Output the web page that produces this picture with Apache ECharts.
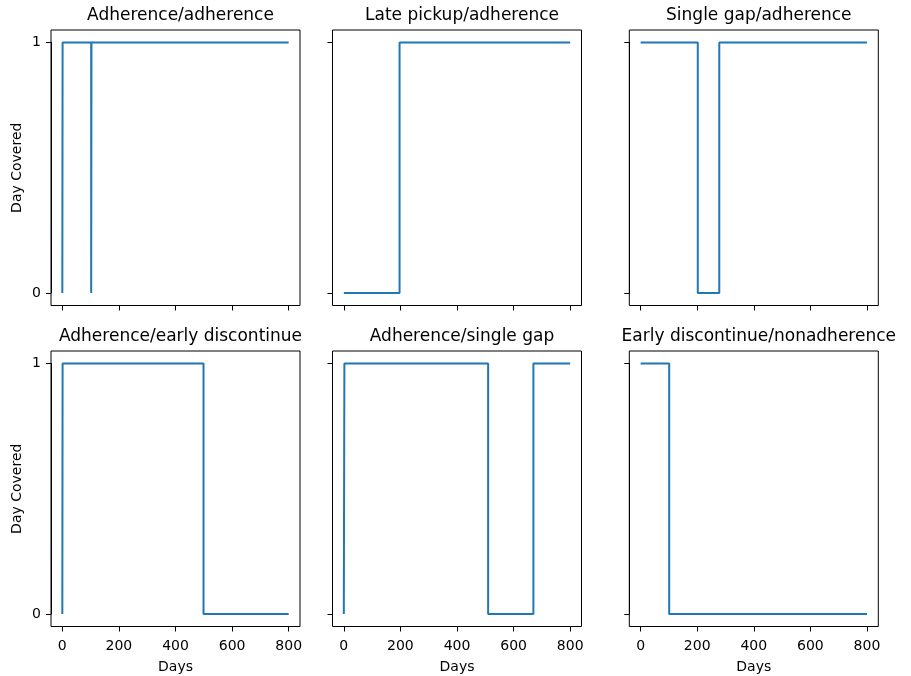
<!DOCTYPE html>
<html>
<head>
<meta charset="utf-8">
<title>Day Covered</title>
<script src="https://cdn.jsdelivr.net/npm/echarts@6/dist/echarts.min.js"></script>
<style>
    html, body { margin: 0; padding: 0; background: #fff; }
    #main { width: 911px; height: 676px; }
</style>
</head>
<body>
<div id="main"></div>
<script>
// panel titles, in row order
var titles = [
    'Adherence/adherence', 'Late pickup/adherence', 'Single gap/adherence',
    'Adherence/early discontinue', 'Adherence/single gap', 'Early discontinue/nonadherence'
];
// days where the covered value changes, and the value from that day on
var days1 = [0, 1, 102, 103, 800];
var vals1 = [0, 1, 0, 1, 1];
var days2 = [0, 197, 800];
var vals2 = [0, 1, 1];
var days3 = [0, 202, 278, 800];
var vals3 = [1, 0, 1, 1];
var days4 = [0, 1, 499, 800];
var vals4 = [0, 1, 0, 0];
var days5 = [0, 2, 510, 670, 800];
var vals5 = [0, 1, 0, 1, 1];
var days6 = [0, 101, 800];
var vals6 = [1, 0, 0];
var xRange = [0, 800, 200];   // min, max, tick step
var yRange = [0, 1, 1];

var allDays = [days1, days2, days3, days4, days5, days6];
var allVals = [vals1, vals2, vals3, vals4, vals5, vals6];

var FONT = 'DejaVu Sans';
var colLeft = [51, 332.5, 629.3];
var colWidth = 249;
var rowTop = [30, 351];
var rowHeight = 275.5;
var PAD = 0.05; // matplotlib style margin around the data

function pairs(d, v) {
    var out = [];
    for (var i = 0; i < d.length; i++) {
        out.push([d[i], v[i]]);
    }
    return out;
}

var opt_ = { animation: false, backgroundColor: '#fff', title: [], grid: [], xAxis: [], yAxis: [], series: [] };
var tickStyle = { color: '#000', width: 1 };

// inner grids hold the data, outer grids draw the box
for (var k = 0; k < 6; k++) {
    var r = Math.floor(k / 3), c = k % 3;
    var padX = colWidth * PAD / (1 + 2 * PAD);
    var padY = rowHeight * PAD / (1 + 2 * PAD);
    opt_.grid.push({
        left: colLeft[c] + padX, top: rowTop[r] + padY,
        width: colWidth - 2 * padX, height: rowHeight - 2 * padY
    });
    opt_.title.push({
        text: titles[k],
        left: colLeft[c] + colWidth / 2,
        top: rowTop[r] - 28,
        textAlign: 'center',
        textStyle: { fontFamily: FONT, fontSize: 17, fontWeight: 'normal', color: '#000' }
    });
    opt_.xAxis.push({
        type: 'value', gridIndex: k, min: xRange[0], max: xRange[1], interval: xRange[2],
        offset: padY,
        name: r == 1 ? 'Days' : '',
        nameLocation: 'middle', nameGap: 34,
        nameTextStyle: { fontFamily: FONT, fontSize: 14, color: '#000' },
        axisLine: { show: true, onZero: false, lineStyle: tickStyle },
        splitLine: { show: false },
        axisTick: { show: true, inside: false, length: 5, lineStyle: tickStyle },
        axisLabel: { show: r == 1, margin: 13, fontFamily: FONT, fontSize: 14, color: '#000' }
    });
    opt_.yAxis.push({
        type: 'value', gridIndex: k, min: yRange[0], max: yRange[1], interval: yRange[2],
        offset: padX,
        name: c == 0 ? 'Day Covered' : '',
        nameLocation: 'middle', nameGap: 27, nameRotate: 90,
        nameTextStyle: { fontFamily: FONT, fontSize: 14, color: '#000' },
        axisLine: { show: true, onZero: false, lineStyle: tickStyle },
        splitLine: { show: false },
        axisTick: { show: true, inside: false, length: 5, lineStyle: tickStyle },
        axisLabel: { show: c == 0, margin: 10, fontFamily: FONT, fontSize: 14, color: '#000' }
    });
    opt_.series.push({
        type: 'line', xAxisIndex: k, yAxisIndex: k,
        step: 'end', showSymbol: false, symbol: 'none', clip: false,
        lineStyle: { color: '#1f77b4', width: 2 },
        data: pairs(allDays[k], allVals[k])
    });
}
for (var j = 0; j < 6; j++) {
    var rr = Math.floor(j / 3), cc = j % 3;
    opt_.grid.push({
        left: colLeft[cc], top: rowTop[rr], width: colWidth, height: rowHeight,
        show: true, borderColor: '#000', borderWidth: 1, backgroundColor: 'transparent'
    });
    opt_.xAxis.push({ type: 'value', gridIndex: 6 + j, show: false, min: 0, max: 1 });
    opt_.yAxis.push({ type: 'value', gridIndex: 6 + j, show: false, min: 0, max: 1 });
}

var myChart = echarts.init(document.getElementById('main'));
myChart.setOption(opt_);
</script>
</body>
</html>
